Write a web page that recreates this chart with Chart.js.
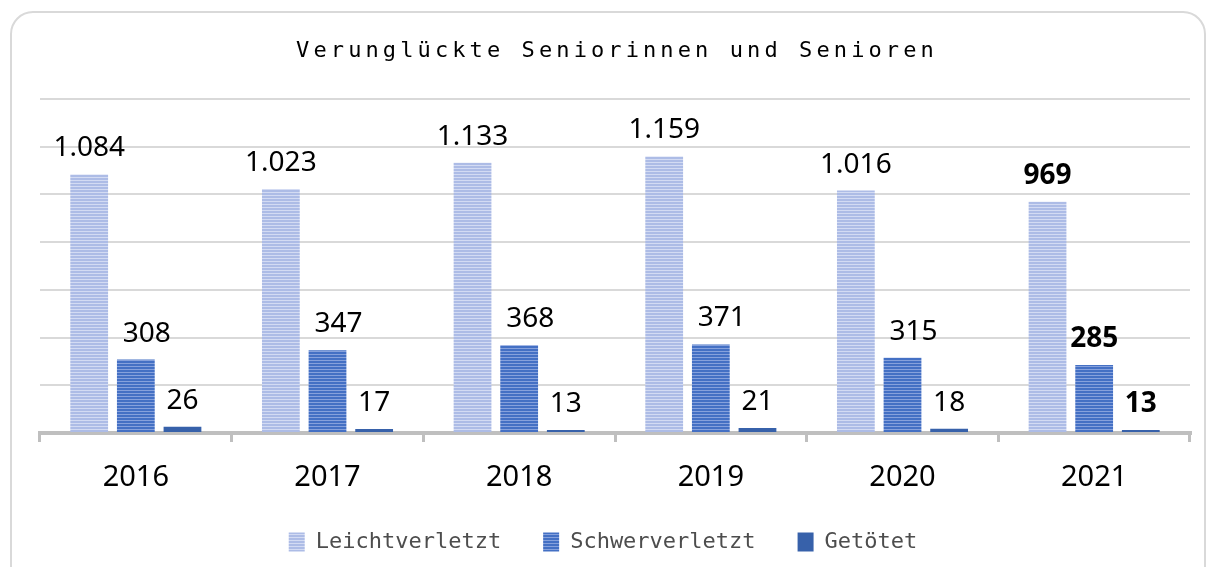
<!DOCTYPE html>
<html>
<head>
<meta charset="utf-8">
<script src="https://cdn.jsdelivr.net/npm/chart.js@4.4.1/dist/chart.umd.min.js"></script>
<style>
    body { margin: 0; background: #fff; }
    #wrap { position: relative; width: 1216px; height: 567px; }
</style>
</head>
<body>
<div id="wrap"><canvas id="unfall_chart" width="1216" height="567"></canvas></div>
<script>
// Data
const years = ["2016", "2017", "2018", "2019", "2020", "2021"]
const seriesNames = ["Leichtverletzt", "Schwerverletzt", "Getötet"]
const leichtverletzt = [1084, 1023, 1133, 1159, 1016, 969]
const schwerverletzt = [308, 347, 368, 371, 315, 285]
const getoetet = [26, 17, 13, 21, 18, 13]
const chartTitle = "Verunglückte Seniorinnen und Senioren"

const ctx = document.getElementById("unfall_chart").getContext("2d")

// Striped fill like the original
function stripes(base, line) {
    let p = document.createElement("canvas")
    p.width = 4
    p.height = 3
    let g = p.getContext("2d")
    g.fillStyle = base
    g.fillRect(0, 0, 4, 3)
    g.fillStyle = line
    g.fillRect(0, 0, 4, 1)
    return ctx.createPattern(p, "repeat")
}

const numberFont = '"Noto Sans", sans-serif'
const monoFont = '"DejaVu Sans Mono", monospace'

// Rounded frame + title, legend nudged a bit to the left
const framePlugin = {
    id: "frame",
    afterLayout(chart) {
        chart.legend.left -= 12
        chart.legend.right -= 12
    },
    beforeDraw(chart) {
        let c = chart.ctx
        c.save()
        c.strokeStyle = "#d9d9d9"
        c.lineWidth = 2
        c.beginPath()
        c.roundRect(11, 12, 1194, 620, 22)
        c.stroke()
        c.restore()
    },
    afterDraw(chart) {
        let c = chart.ctx
        c.save()
        c.font = "22px " + monoFont
        c.letterSpacing = "4.1px"
        c.fillStyle = "#000"
        c.textAlign = "center"
        c.textBaseline = "alphabetic"
        c.fillText(chartTitle, 617, 57)
        c.restore()
    }
}

// Value labels above the bars
const valueLabels = {
    id: "valueLabels",
    afterDatasetsDraw(chart) {
        let c = chart.ctx
        c.save()
        c.fillStyle = "#000"
        c.textAlign = "center"
        c.textBaseline = "alphabetic"
        chart.data.datasets.forEach((ds, i) => {
            let meta = chart.getDatasetMeta(i)
            meta.data.forEach((bar, j) => {
                let bold = j === years.length - 1
                c.font = (bold ? "bold " : "") + "28px " + numberFont
                let shift = i === 1 && !bold ? 11 : 0
                c.fillText(ds.data[j].toLocaleString("de-DE"), bar.x + shift, bar.y - 18)
            })
        })
        c.restore()
    }
}

new Chart(ctx, {
    type: "bar",
    data: {
        labels: years,
        datasets: [
            { label: seriesNames[0], data: leichtverletzt, backgroundColor: stripes("#adbce6", "#d3dbf3") },
            { label: seriesNames[1], data: schwerverletzt, backgroundColor: stripes("#4470c4", "#86a1dc") },
            { label: seriesNames[2], data: getoetet, backgroundColor: "#3761aa" }
        ]
    },
    options: {
        responsive: false,
        animation: false,
        events: [],
        categoryPercentage: 0.73,
        barPercentage: 0.81,
        layout: {
            padding: { top: 99, left: 40, right: 26, bottom: 4 }
        },
        scales: {
            x: {
                afterFit: scale => { scale.height = 56 },
                grid: {
                    display: true,
                    drawOnChartArea: false,
                    drawTicks: true,
                    tickLength: 9,
                    color: "#bfbfbf",
                    lineWidth: 3
                },
                border: { color: "#bfbfbf", width: 4 },
                ticks: {
                    color: "#000",
                    padding: 18,
                    font: { family: numberFont, size: 29 }
                }
            },
            y: {
                min: 0,
                max: 1400,
                ticks: { display: false, stepSize: 200 },
                border: { display: false },
                grid: { color: "#d9d9d9", lineWidth: 2, drawTicks: false }
            }
        },
        plugins: {
            title: { display: false },
            tooltip: { enabled: false },
            legend: {
                position: "bottom",
                labels: {
                    boxWidth: 16,
                    boxHeight: 19,
                    padding: 42,
                    color: "#4d4d4d",
                    font: { family: monoFont, size: 22 }
                }
            }
        }
    },
    plugins: [framePlugin, valueLabels]
})
</script>
</body>
</html>
